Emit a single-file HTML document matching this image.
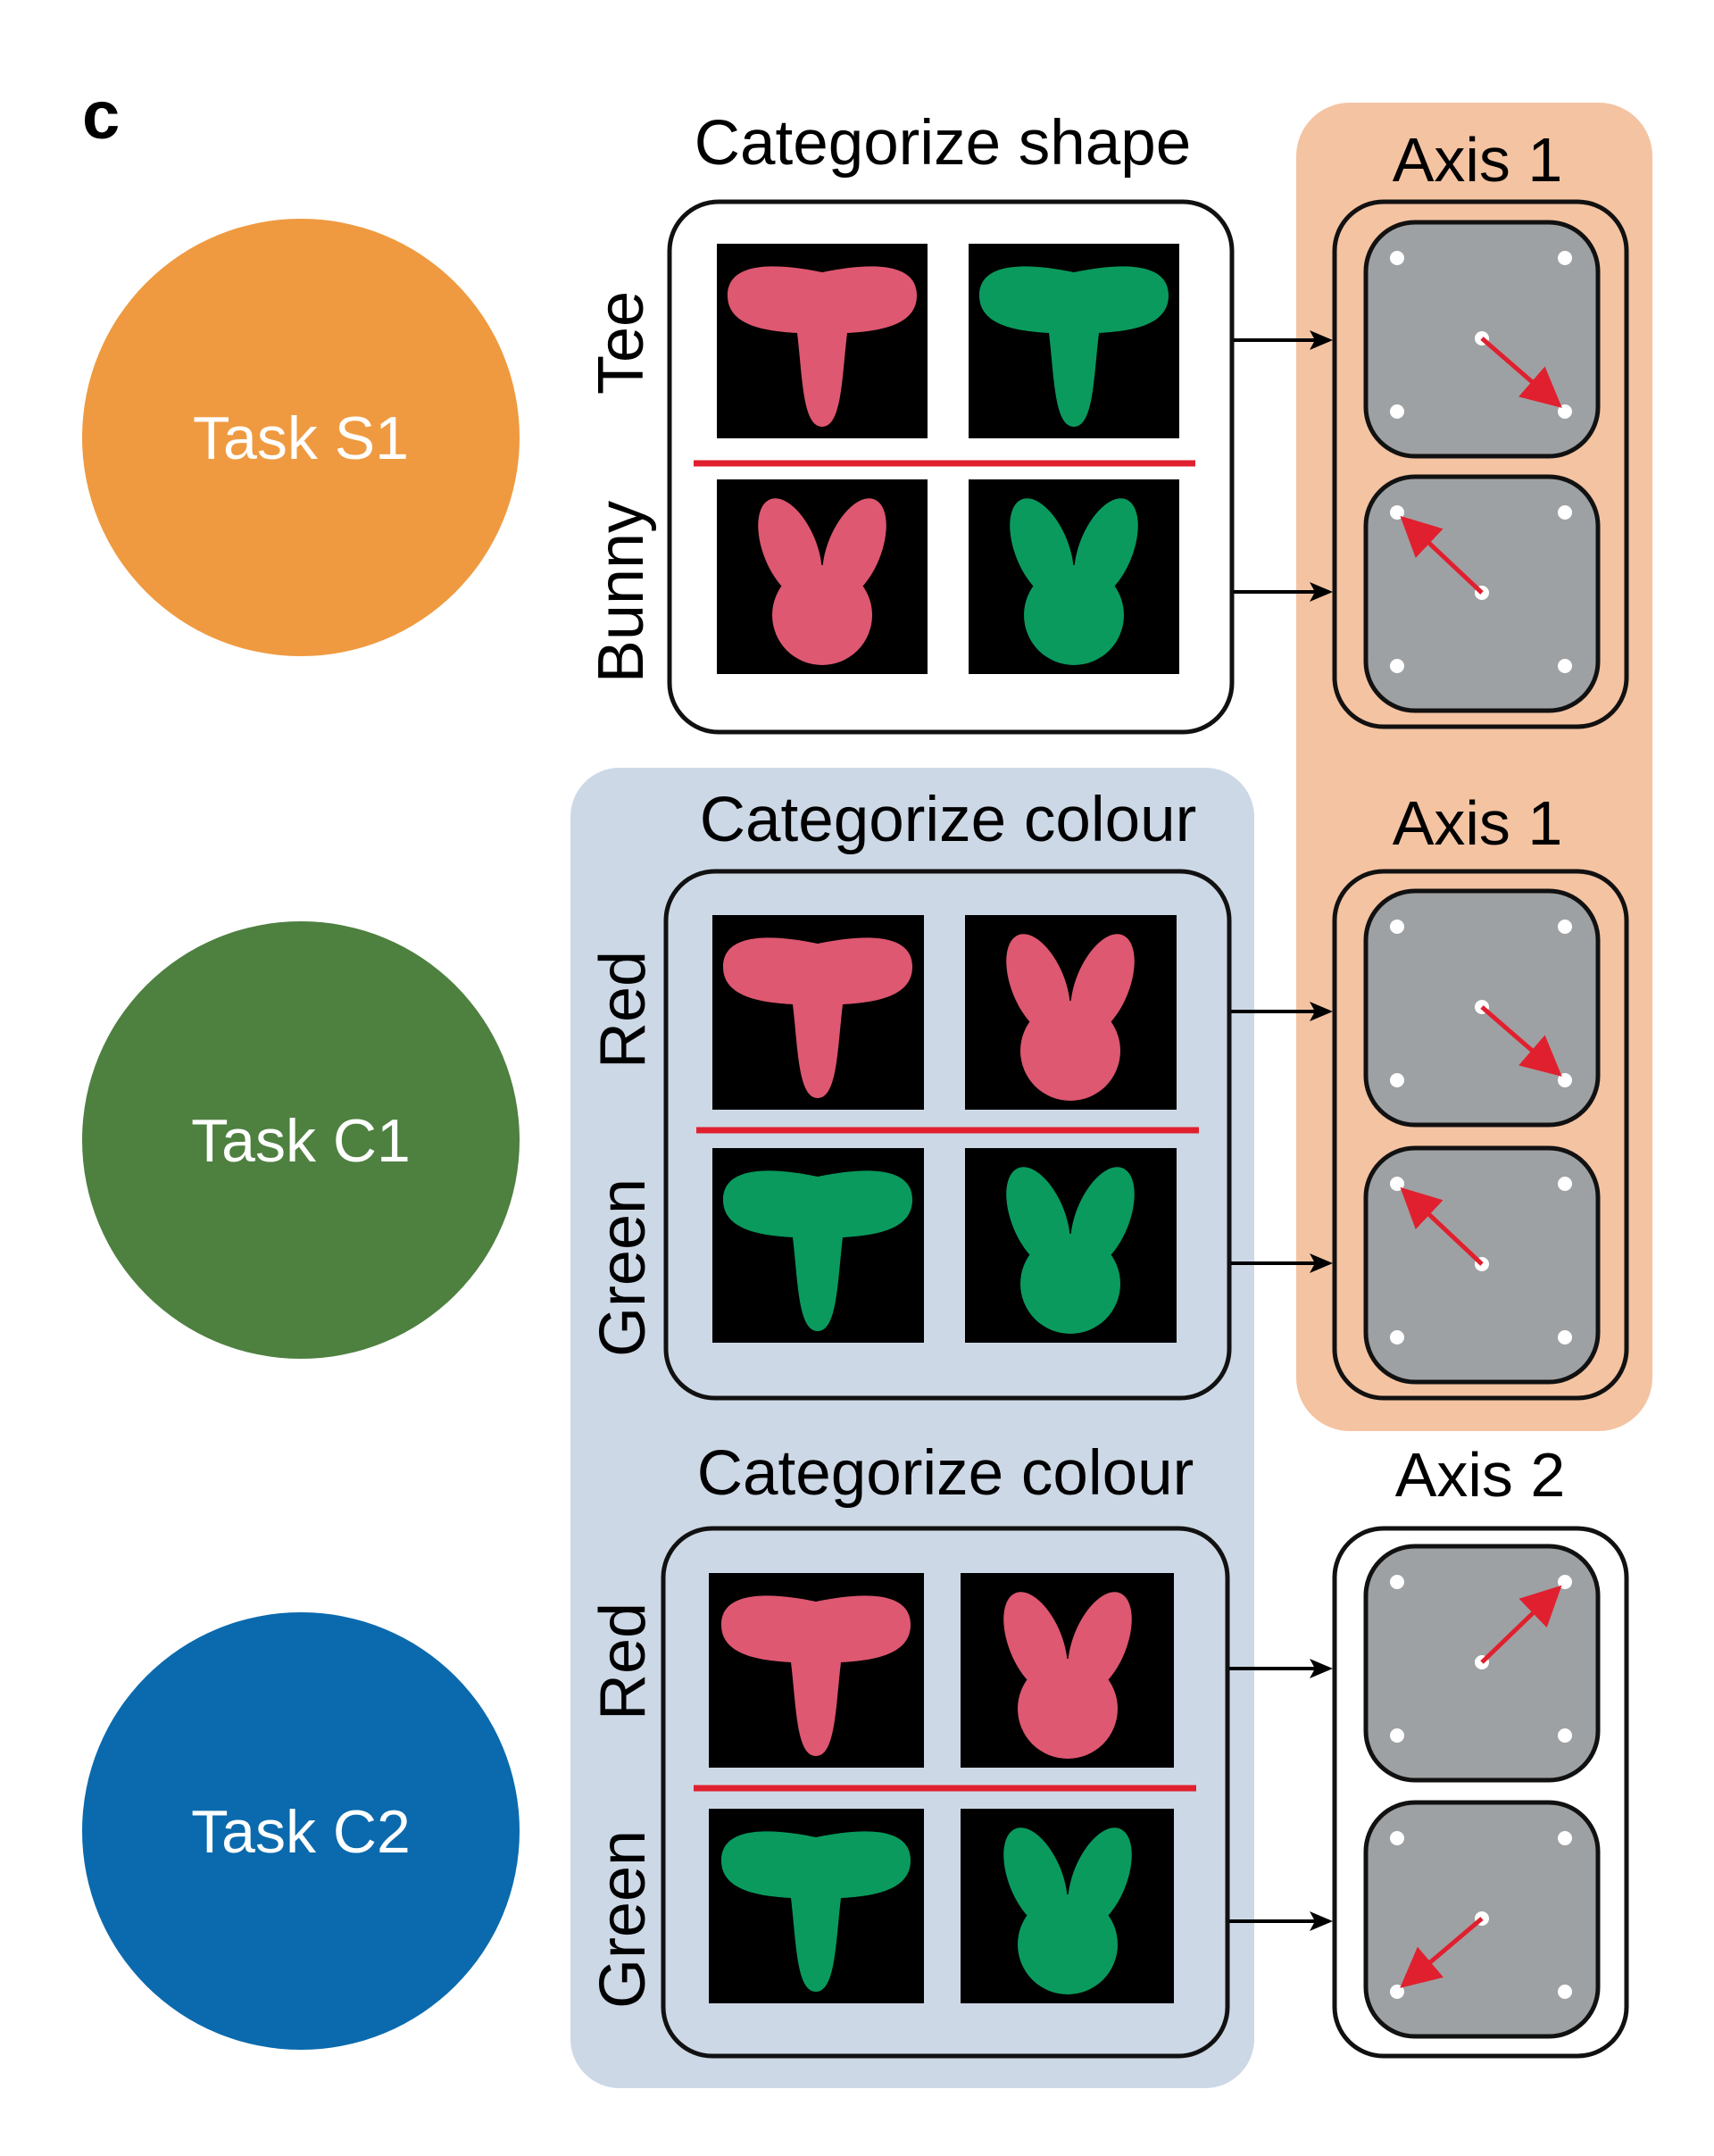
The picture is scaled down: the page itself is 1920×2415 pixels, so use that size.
<!DOCTYPE html>
<html><head><meta charset="utf-8"><style>
html,body{margin:0;padding:0;background:#fff}
svg{display:block}
text{font-family:"Liberation Sans",sans-serif}
</style></head><body>
<svg width="1920" height="2415" viewBox="0 0 1920 2415" xmlns="http://www.w3.org/2000/svg">
<defs>
<marker id="ab" markerWidth="26" markerHeight="26" refX="22" refY="13" orient="auto" markerUnits="userSpaceOnUse" viewBox="0 0 26 26"><path d="M0,2 L26,13 L0,24 L6,13 z" fill="#000"/></marker>
<marker id="ar" markerWidth="9" markerHeight="9" refX="8" refY="5" orient="auto" viewBox="0 0 10 10"><path d="M0,0 L10,5 L0,10 z" fill="#E0202F"/></marker>
<g id="tee"><path d="M118,205 C96,205 96,150 90,100 C55,98 12,92 12,58 C12,22 60,20 118,32 C176,20 224,22 224,58 C224,92 181,98 146,100 C140,150 140,205 118,205 Z"/></g>
<g id="bun"><ellipse cx="82" cy="78" rx="30" ry="60" transform="rotate(-22 82 78)"/><ellipse cx="154" cy="78" rx="30" ry="60" transform="rotate(22 154 78)"/><circle cx="118" cy="152" r="56"/></g>
<g id="dots"><rect x="0" y="0" width="260" height="262" rx="55" fill="#9EA1A3" stroke="#111" stroke-width="5"/>
<circle cx="35" cy="40" r="8" fill="#fff"/><circle cx="223" cy="40" r="8" fill="#fff"/><circle cx="35" cy="212" r="8" fill="#fff"/><circle cx="223" cy="212" r="8" fill="#fff"/><circle cx="130" cy="130" r="8" fill="#fff"/></g>
</defs>
<text x="92" y="155" font-size="76" font-weight="bold">c</text>
<circle cx="337" cy="490" r="245" fill="#EF9A40"/>
<text x="337" y="514" font-size="68" fill="#fff" text-anchor="middle">Task S1</text>
<circle cx="337" cy="1277" r="245" fill="#4E8040"/>
<text x="337" y="1301" font-size="68" fill="#fff" text-anchor="middle">Task C1</text>
<circle cx="337" cy="2051" r="245" fill="#0A6AAD"/>
<text x="337" y="2075" font-size="68" fill="#fff" text-anchor="middle">Task C2</text>

<rect x="1452" y="115" width="399" height="1488" rx="60" fill="#F4C3A2"/>
<rect x="639" y="860" width="766" height="1479" rx="55" fill="#CDD8E6"/>

<!-- section 1 -->
<text x="1056" y="184" font-size="71" text-anchor="middle">Categorize shape</text>
<rect x="750" y="226" width="630" height="594" rx="55" fill="#fff" stroke="#111" stroke-width="5"/>
<rect x="803" y="273" width="236" height="218" fill="#000"/><use href="#tee" x="803" y="273" fill="#DD5870"/>
<rect x="1085" y="273" width="236" height="218" fill="#000"/><use href="#tee" x="1085" y="273" fill="#0A9A5E"/>
<rect x="803" y="537" width="236" height="218" fill="#000"/><use href="#bun" x="803" y="537" fill="#DD5870"/>
<rect x="1085" y="537" width="236" height="218" fill="#000"/><use href="#bun" x="1085" y="537" fill="#0A9A5E"/>
<line x1="777" y1="519" x2="1339" y2="519" stroke="#E0202F" stroke-width="7"/>
<text transform="translate(720,384) rotate(-90)" font-size="72" text-anchor="middle">Tee</text>
<text transform="translate(720,663) rotate(-90)" font-size="72" text-anchor="middle">Bunny</text>
<line x1="1382" y1="381" x2="1489" y2="381" stroke="#000" stroke-width="4" marker-end="url(#ab)"/>
<line x1="1382" y1="663" x2="1489" y2="663" stroke="#000" stroke-width="4" marker-end="url(#ab)"/>
<text x="1655" y="203" font-size="70" text-anchor="middle">Axis 1</text>
<rect x="1495" y="226" width="327" height="588" rx="55" fill="none" stroke="#111" stroke-width="5"/>
<g transform="translate(1530,249)"><use href="#dots"/><line x1="130" y1="130" x2="213" y2="202" stroke="#E0202F" stroke-width="5" marker-end="url(#ar)"/></g>
<g transform="translate(1530,534)"><use href="#dots"/><line x1="130" y1="130" x2="45" y2="50" stroke="#E0202F" stroke-width="5" marker-end="url(#ar)"/></g>

<!-- section 2 -->
<text x="1062" y="942" font-size="71" text-anchor="middle">Categorize colour</text>
<rect x="746" y="976" width="631" height="590" rx="55" fill="none" stroke="#111" stroke-width="5"/>
<rect x="798" y="1025" width="237" height="218" fill="#000"/><use href="#tee" x="798" y="1025" fill="#DD5870"/>
<rect x="1081" y="1025" width="237" height="218" fill="#000"/><use href="#bun" x="1081" y="1025" fill="#DD5870"/>
<rect x="798" y="1286" width="237" height="218" fill="#000"/><use href="#tee" x="798" y="1286" fill="#0A9A5E"/>
<rect x="1081" y="1286" width="237" height="218" fill="#000"/><use href="#bun" x="1081" y="1286" fill="#0A9A5E"/>
<line x1="780" y1="1266" x2="1343" y2="1266" stroke="#E0202F" stroke-width="7"/>
<text transform="translate(722,1131) rotate(-90)" font-size="72" text-anchor="middle">Red</text>
<text transform="translate(722,1420) rotate(-90)" font-size="72" text-anchor="middle">Green</text>
<line x1="1379" y1="1133" x2="1489" y2="1133" stroke="#000" stroke-width="4" marker-end="url(#ab)"/>
<line x1="1379" y1="1415" x2="1489" y2="1415" stroke="#000" stroke-width="4" marker-end="url(#ab)"/>
<text x="1655" y="946" font-size="70" text-anchor="middle">Axis 1</text>
<rect x="1495" y="976" width="327" height="590" rx="55" fill="none" stroke="#111" stroke-width="5"/>
<g transform="translate(1530,998)"><use href="#dots"/><line x1="130" y1="130" x2="213" y2="202" stroke="#E0202F" stroke-width="5" marker-end="url(#ar)"/></g>
<g transform="translate(1530,1286)"><use href="#dots"/><line x1="130" y1="130" x2="45" y2="50" stroke="#E0202F" stroke-width="5" marker-end="url(#ar)"/></g>

<!-- section 3 -->
<text x="1059" y="1674" font-size="71" text-anchor="middle">Categorize colour</text>
<rect x="743" y="1712" width="632" height="591" rx="55" fill="none" stroke="#111" stroke-width="5"/>
<rect x="794" y="1762" width="241" height="218" fill="#000"/><use href="#tee" x="796" y="1762" fill="#DD5870"/>
<rect x="1076" y="1762" width="239" height="218" fill="#000"/><use href="#bun" x="1078" y="1762" fill="#DD5870"/>
<rect x="794" y="2026" width="241" height="218" fill="#000"/><use href="#tee" x="796" y="2026" fill="#0A9A5E"/>
<rect x="1076" y="2026" width="239" height="218" fill="#000"/><use href="#bun" x="1078" y="2026" fill="#0A9A5E"/>
<line x1="777" y1="2003" x2="1340" y2="2003" stroke="#E0202F" stroke-width="7"/>
<text transform="translate(722,1861) rotate(-90)" font-size="72" text-anchor="middle">Red</text>
<text transform="translate(722,2150) rotate(-90)" font-size="72" text-anchor="middle">Green</text>
<line x1="1377" y1="1869" x2="1489" y2="1869" stroke="#000" stroke-width="4" marker-end="url(#ab)"/>
<line x1="1377" y1="2152" x2="1489" y2="2152" stroke="#000" stroke-width="4" marker-end="url(#ab)"/>
<text x="1658" y="1676" font-size="70" text-anchor="middle">Axis 2</text>
<rect x="1495" y="1712" width="327" height="591" rx="55" fill="#fff" stroke="#111" stroke-width="5"/>
<g transform="translate(1530,1732)"><use href="#dots"/><line x1="130" y1="130" x2="213" y2="50" stroke="#E0202F" stroke-width="5" marker-end="url(#ar)"/></g>
<g transform="translate(1530,2019)"><use href="#dots"/><line x1="130" y1="130" x2="45" y2="202" stroke="#E0202F" stroke-width="5" marker-end="url(#ar)"/></g>
</svg>
</body></html>
